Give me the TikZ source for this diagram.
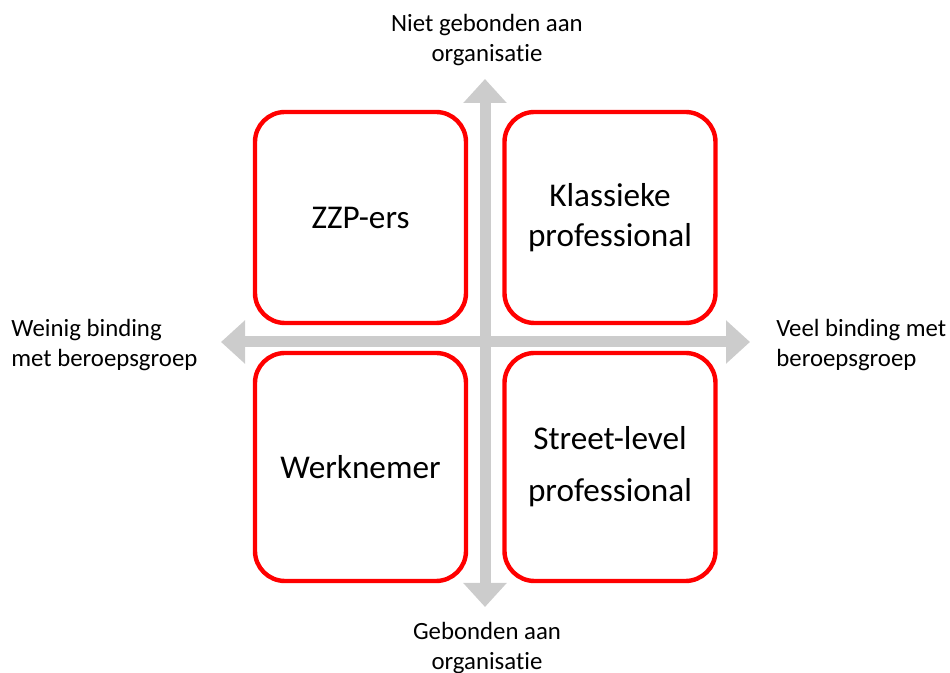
\documentclass[tikz,border=0pt]{standalone}
\usepackage{fontspec}
\setmainfont{Carlito}[Ligatures={NoCommon}]
\usetikzlibrary{arrows.meta}
\definecolor{axisgray}{RGB}{204,204,204}
\definecolor{boxred}{RGB}{255,0,0}
\begin{document}
\begin{tikzpicture}[x=0.5pt,y=-0.5pt,
  quadrant/.style={draw=boxred, line width=2.2pt, rounded corners=15pt,
    inner sep=0pt, minimum width=105.5pt, align=center,
    font=\fontsize{16.6}{20}\selectfont},
  upperbox/.style={quadrant, minimum height=105.5pt},
  lowerbox/.style={quadrant, minimum height=114pt},
  axis/.style={draw=axisgray, line width=5.5pt,
    {Triangle[length=12pt,width=21pt]}-{Triangle[length=12pt,width=21pt]}},
  axislabel/.style={font=\fontsize{12.4}{15}\selectfont, inner sep=0pt}]
\useasboundingbox (0,0) rectangle (950,673);

% axis end points
\coordinate (top) at (485,79);
\coordinate (bottom) at (485,607);
\coordinate (left) at (221,342);
\coordinate (right) at (750,342);

% axes
\draw[axis] (left) -- (right);
\draw[axis] (top) -- (bottom);

% quadrants
\node[upperbox] (zzp) at (360.5,217.5) {ZZP-ers};
\node[upperbox] (klassiek) at (610,217.5) {Klassieke\\professional};
\node[lowerbox] (werknemer) at (360.5,467) {Werknemer};
\node[lowerbox] (street) at (610,467) {Street-level\\[6pt]professional};

% axis labels
\node[axislabel, align=center] (toplabel) at (487,40) {Niet gebonden aan\\organisatie};
\node[axislabel, align=center] (bottomlabel) at (487,648) {Gebonden aan\\organisatie};
\node[axislabel, align=left, anchor=west] (leftlabel) at (11,345) {Weinig binding\\met beroepsgroep};
\node[axislabel, align=left, anchor=west] (rightlabel) at (776,345) {Veel binding met\\beroepsgroep};
\end{tikzpicture}
\end{document}
